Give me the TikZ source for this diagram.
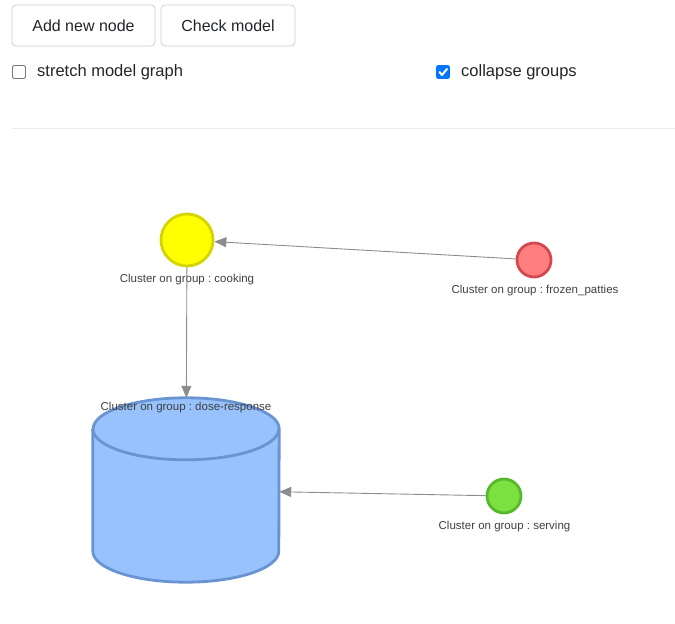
\documentclass[tikz,border=0pt]{standalone}
\usepackage{fontspec}
\setmainfont{Liberation Sans}
\usetikzlibrary{arrows.meta}
\definecolor{btnborder}{HTML}{CCCCCC}
\definecolor{btntext}{HTML}{212529}
\definecolor{chkborder}{HTML}{767676}
\definecolor{chkblue}{HTML}{0075FF}
\definecolor{sepline}{HTML}{EBEBEB}
\definecolor{edgegray}{HTML}{8C8C8C}
\definecolor{labelgray}{HTML}{404040}
\definecolor{yellowfill}{HTML}{FFFF00}
\definecolor{yellowborder}{HTML}{D4D400}
\definecolor{redfill}{HTML}{FF7F80}
\definecolor{redborder}{HTML}{D24A4E}
\definecolor{greenfill}{HTML}{7BE141}
\definecolor{greenborder}{HTML}{56B82A}
\definecolor{bluefill}{HTML}{97C2FC}
\definecolor{blueborder}{HTML}{6A93D2}
\frenchspacing
\tikzset{
  btn/.style={draw=btnborder, line width=0.8pt, rounded corners=4pt, text=btntext,
    font=\fontsize{16}{19}\selectfont, minimum height=41pt, inner xsep=0pt, anchor=center},
  chk/.style={draw=chkborder, line width=0.9pt, rounded corners=2pt, minimum size=13pt, inner sep=0pt},
  chklabel/.style={text=btntext, font=\fontsize{16.5}{19}\selectfont, anchor=west, inner sep=0pt},
  cluster/.style={circle, line width=2.8pt, inner sep=0pt},
  clabel/.style={text=labelgray, font=\fontsize{11.5}{13}\selectfont, inner sep=0pt},
  edge/.style={draw=edgegray, line width=0.9pt, -{Triangle[length=12pt,width=10pt]}, color=edgegray},
}
\begin{document}
\begin{tikzpicture}[x=1pt,y=1pt]
\useasboundingbox (0,0) rectangle (675,624);
% toolbar
\node[btn, minimum width=143pt] (addbtn) at (83.5,598.5) {Add new node};
\node[btn, minimum width=134pt] (checkbtn) at (228,598.5) {Check model};
\node[chk] (stretchbox) at (19,552) {};
\node[chklabel] (stretchlbl) at (37,552) {stretch model graph};
\node[chk, draw=chkblue, fill=chkblue] (collapsebox) at (443,552) {};
\draw[white, line width=2pt, line cap=round, line join=round]
  ([xshift=-3.5pt,yshift=0pt]collapsebox.center) -- ([xshift=-1pt,yshift=-3pt]collapsebox.center) -- ([xshift=4pt,yshift=3pt]collapsebox.center);
\node[chklabel] (collapselbl) at (461,552) {collapse groups};
\coordinate (sepL) at (12,496);
\coordinate (sepR) at (675,496);
\draw[sepline, line width=0.8pt] (sepL) -- (sepR);
% graph nodes
\node[cluster, draw=yellowborder, fill=yellowfill, minimum size=52pt] (cooking) at (187,384) {};
\node[clabel] (cookinglbl) at (187,344) {Cluster on group : cooking};
\node[cluster, draw=redborder, fill=redfill, minimum size=34pt] (frozen) at (534,364) {};
\node[clabel] (frozenlbl) at (535,333) {Cluster on group : frozen\_patties};
\node[cluster, draw=greenborder, fill=greenfill, minimum size=34pt] (serving) at (504,128) {};
\node[clabel] (servinglbl) at (504.5,97) {Cluster on group : serving};
% cylinder
\node[minimum width=186pt, minimum height=184pt, inner sep=0pt] (dose) at (186,134) {};
\filldraw[fill=bluefill, draw=blueborder, line width=2.8pt, line join=round]
  ([yshift=-31pt]dose.north west) -- ([yshift=31pt]dose.south west)
  arc[start angle=180, end angle=360, x radius=93pt, y radius=31pt]
  -- ([yshift=-31pt]dose.north east)
  arc[start angle=0, end angle=180, x radius=93pt, y radius=31pt] -- cycle;
\draw[draw=blueborder, line width=2.8pt]
  ([yshift=-31pt]dose.north west)
  arc[start angle=180, end angle=360, x radius=93pt, y radius=31pt];
\node[clabel] (doselbl) at (186,216) {Cluster on group : dose-response};
% edges
\draw[edge] (frozen) -- (cooking);
\draw[edge] (cooking) -- (dose);
\draw[edge] (serving) -- (dose);
\end{tikzpicture}
\end{document}
